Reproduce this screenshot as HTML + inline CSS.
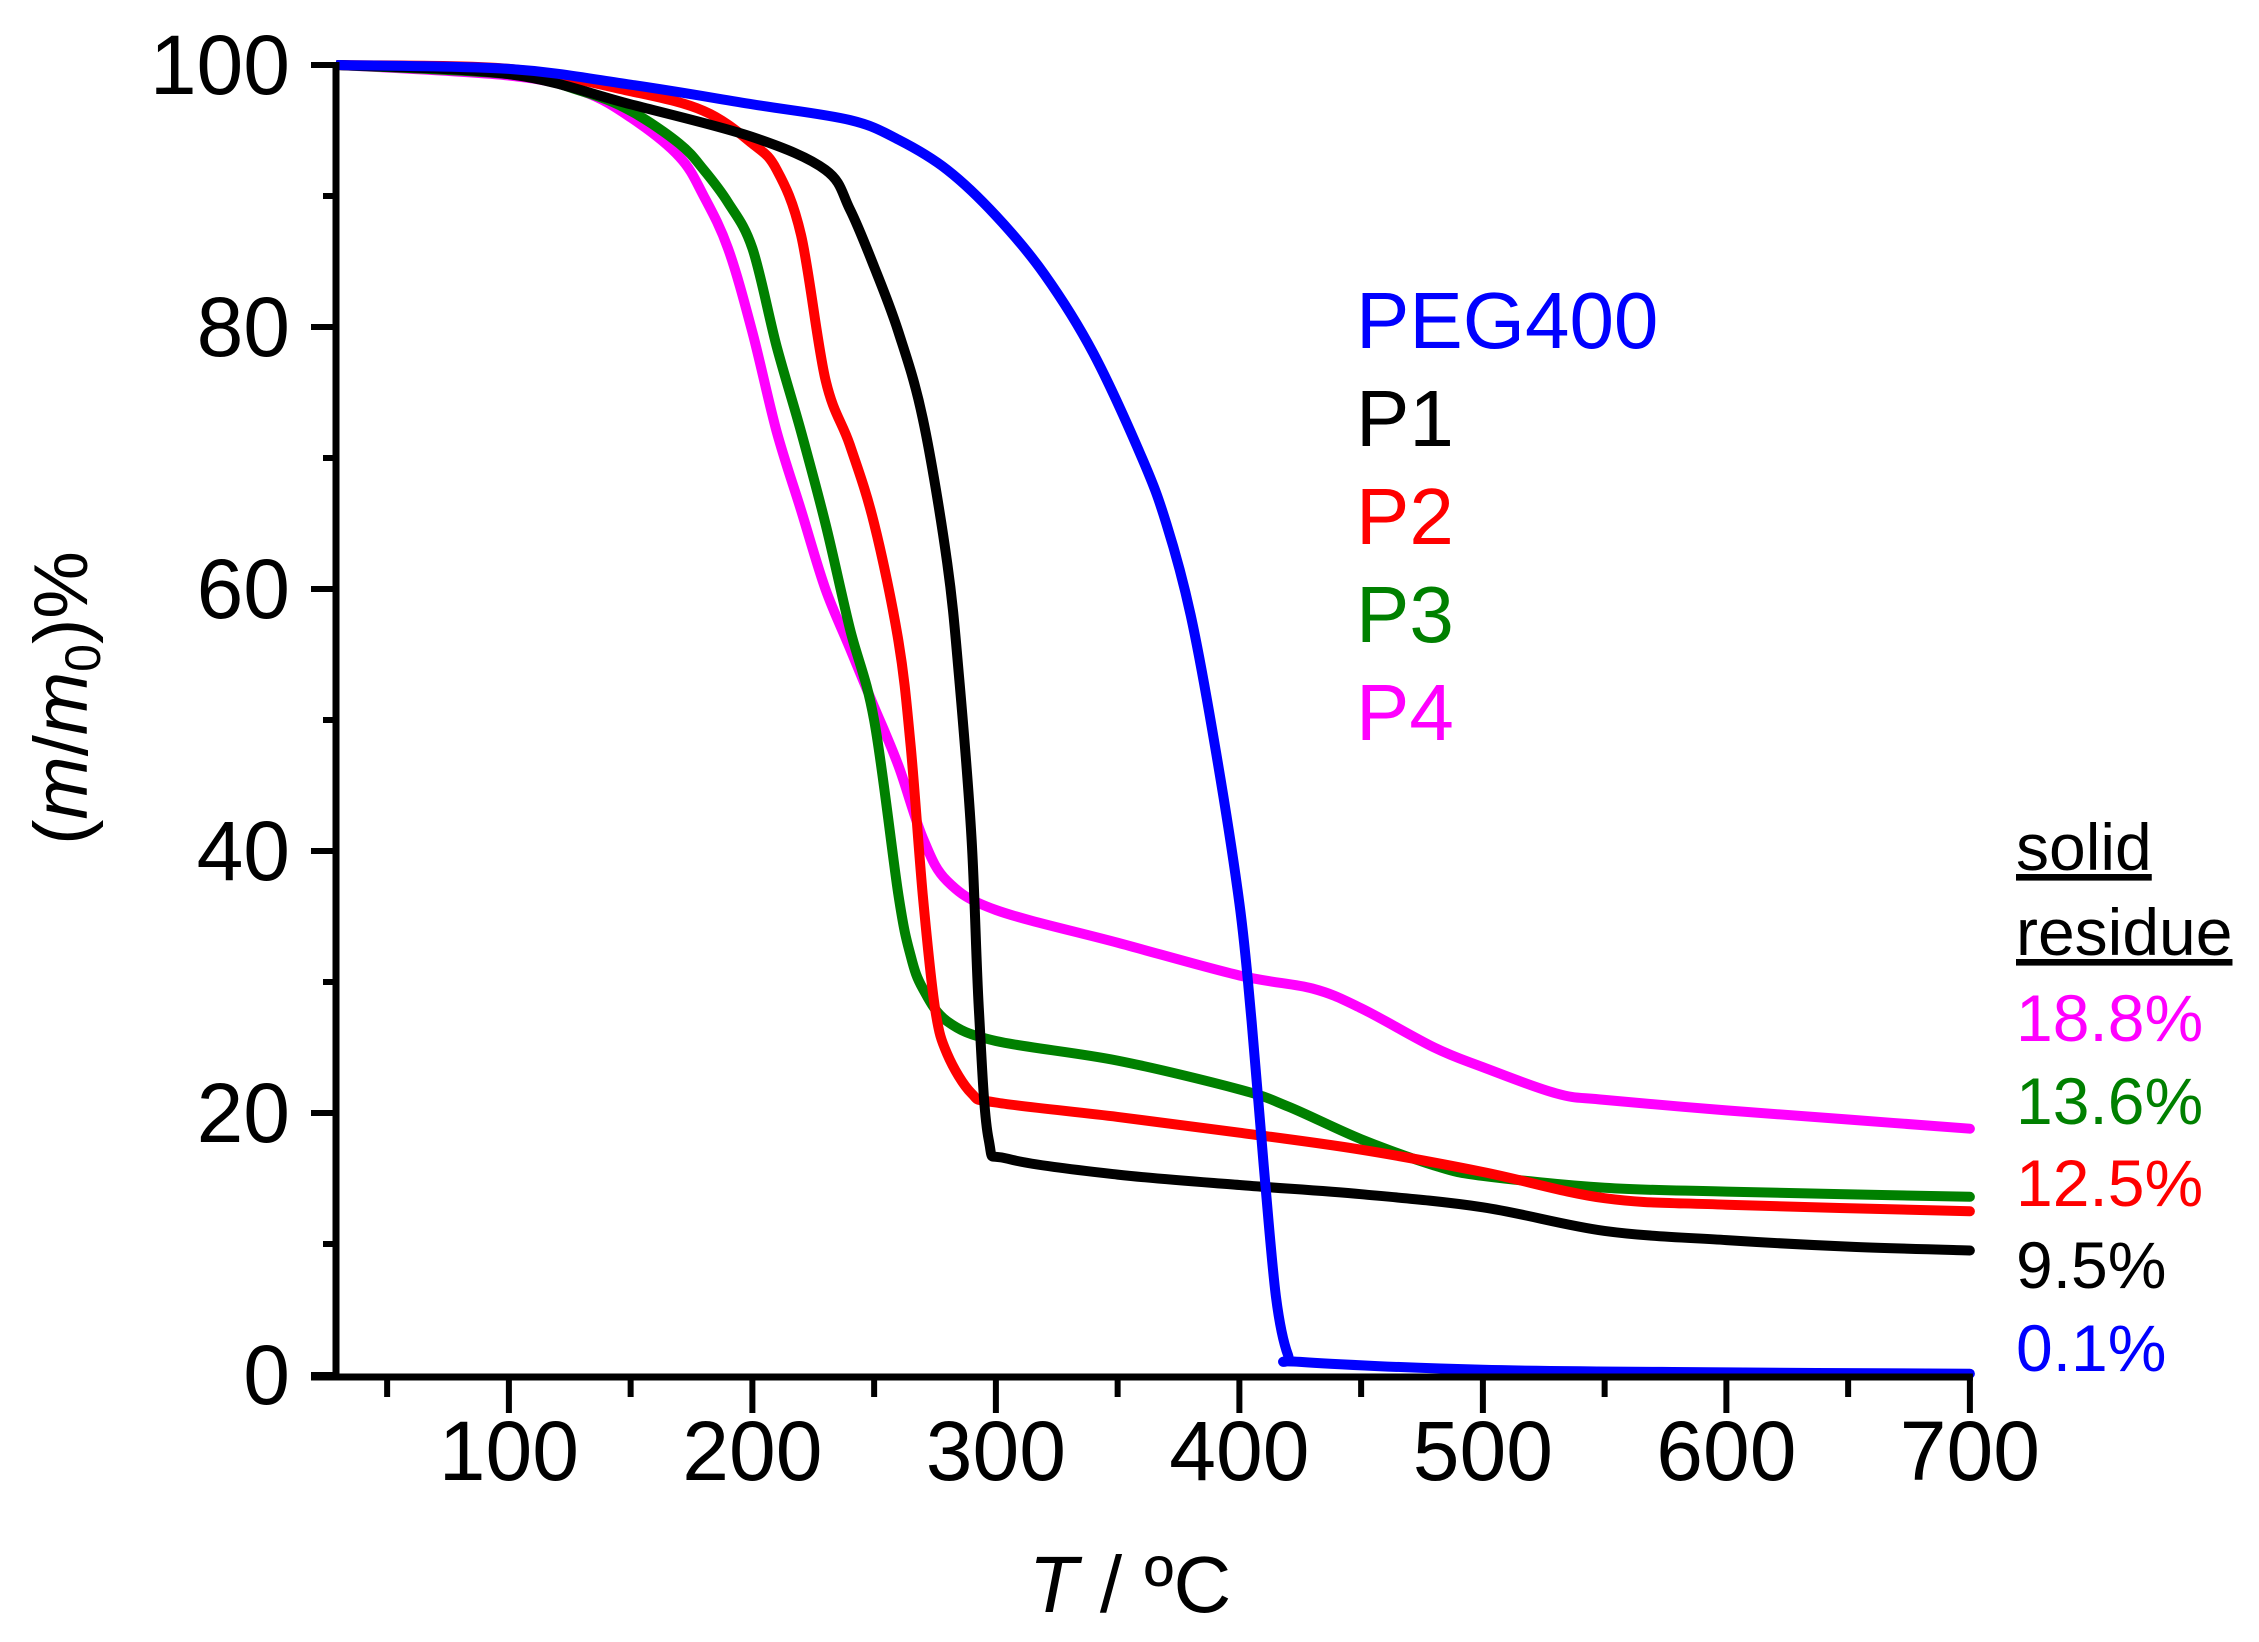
<!DOCTYPE html>
<html><head><meta charset="utf-8">
<style>
html,body{margin:0;padding:0;background:#fff;}
svg{display:block;font-family:"Liberation Sans",sans-serif;}
</style></head>
<body>
<svg id="chart" width="2259" height="1642" viewBox="0 0 2259 1642" xmlns="http://www.w3.org/2000/svg">
<defs><clipPath id="plotclip"><rect x="336" y="40" width="1646" height="1340"/></clipPath></defs>
<g id="series" clip-path="url(#plotclip)"></g>
<g id="axes"></g>
<text transform="translate(87,698) rotate(-90)" text-anchor="middle" font-size="76">(<tspan font-style="italic">m</tspan>/<tspan font-style="italic">m</tspan><tspan font-size="50" dy="13">0</tspan><tspan dy="-13">)%</tspan></text>
<text x="1130" y="1612" text-anchor="middle" font-size="80"><tspan font-style="italic">T</tspan> / ºC</text>
<g font-size="80">
<text x="1356" y="348" fill="#0000ff">PEG400</text>
<text x="1356" y="446" fill="#000">P1</text>
<text x="1356" y="544" fill="#ff0000">P2</text>
<text x="1356" y="642" fill="#008000">P3</text>
<text x="1356" y="740" fill="#ff00ff">P4</text>
</g>
<g font-size="66">
<text x="2016" y="870" text-decoration="underline">solid </text>
<text x="2016" y="955" text-decoration="underline">residue</text>
<text x="2016" y="1041" fill="#ff00ff">18.8%</text>
<text x="2016" y="1124" fill="#008000">13.6%</text>
<text x="2016" y="1206" fill="#ff0000">12.5%</text>
<text x="2016" y="1288" fill="#000">9.5%</text>
<text x="2016" y="1371" fill="#0000ff">0.1%</text>
</g>
</svg>
<script>
const xTicks=[100,200,300,400,500,600,700];
const yTicks=[0,20,40,60,80,100];
const p4T=[30,100,130,150,170,180,190,200,210,220,230,240,250,260,270,280,300,350,400,430,450,480,500,530,550,600,650,700];
const p4M=[100,99.2,98,96,93,90,86,79.6,72,66,60,55.5,51,46.5,41,37.7,35.5,33,30.5,29.5,28,25,23.5,21.5,21,20.2,19.5,18.8];
const p3T=[30,100,130,150,170,180,190,200,210,220,230,240,250,260,265,270,280,300,350,400,420,450,480,500,550,600,700];
const p3M=[100,99.3,98,96.5,94,92,89.5,86,78.5,72,65,57,50,36.6,32,29.5,27,25.5,24,21.8,20.5,18,16,15.2,14.3,14,13.6];
const p2T=[30,100,150,180,200,210,220,230,240,250,260,265,270,275,280,290,300,350,400,450,500,550,600,700];
const p2M=[100,99.7,98,96.5,94,92,87,76,71,65,56,48,36.6,28,24.5,21.5,20.8,19.7,18.5,17.2,15.5,13.5,13,12.5];
const p1T=[30,100,150,200,230,240,250,260,270,280,285,290,293,297,305,350,400,450,500,550,600,650,700];
const p1M=[100,99.3,97,94.5,92,89,84.6,79.6,73,62,53,41,28,18,16.5,15.3,14.5,13.8,12.8,11,10.3,9.8,9.5];
const pegT=[30,100,150,200,240,260,280,300,320,340,360,370,380,390,400,405,410,415,420,425,500,600,700];
const pegM=[100,99.7,98.5,97,95.8,94.3,92,88.5,84,78,70,65,58,48,36,27,16,6,1.5,1,0.4,0.2,0.1];

const X0=336,XMIN=29,XPX=2.435;
const Y0=1375,YPX=13.1;
function xs(v){return X0+(v-XMIN)*XPX;}
function ys(v){return Y0-v*YPX;}
const NS="http://www.w3.org/2000/svg";
const series=document.getElementById('series');
const axes=document.getElementById('axes');
function mk(tag,attrs,parent){const e=document.createElementNS(NS,tag);for(const k in attrs)e.setAttribute(k,attrs[k]);parent.appendChild(e);return e;}
function drawLine(T,M,color,name){
  let d='';
  for(let i=0;i<T.length;i++){
    if(i===0){d+='M'+xs(T[i]).toFixed(1)+','+ys(M[i]).toFixed(1);continue;}
    const p0=[xs(T[Math.max(i-2,0)]),ys(M[Math.max(i-2,0)])];
    const p1=[xs(T[i-1]),ys(M[i-1])];
    const p2=[xs(T[i]),ys(M[i])];
    const p3=[xs(T[Math.min(i+1,T.length-1)]),ys(M[Math.min(i+1,T.length-1)])];
    const c1=[p1[0]+(p2[0]-p0[0])/6,p1[1]+(p2[1]-p0[1])/6];
    const c2=[p2[0]-(p3[0]-p1[0])/6,p2[1]-(p3[1]-p1[1])/6];
    d+=' C'+c1[0].toFixed(1)+','+c1[1].toFixed(1)+' '+c2[0].toFixed(1)+','+c2[1].toFixed(1)+' '+p2[0].toFixed(1)+','+p2[1].toFixed(1);
  }
  const p=mk('path',{d:d,fill:'none',stroke:color,'stroke-width':10,'stroke-linejoin':'round','stroke-linecap':'round'},series);
  
  
}
drawLine(p4T,p4M,'#ff00ff','line-p4');
drawLine(p3T,p3M,'#008000','line-p3');
drawLine(p2T,p2M,'#ff0000','line-p2');
drawLine(p1T,p1M,'#000000','line-p1');
drawLine(pegT,pegM,'#0000ff','line-peg400');

const ax=mk('line',{x1:X0,y1:Y0+3,x2:X0,y2:ys(100)-3,stroke:'#000','stroke-width':7},axes);


const bx=mk('line',{x1:X0-25,y1:Y0+2,x2:xs(700)+3,y2:Y0+2,stroke:'#000','stroke-width':7},axes);


for(let v=0;v<=100;v+=10){
  const major=v%20===0;
  const t=mk('line',{x1:X0-(major?25:13),y1:ys(v),x2:X0,y2:ys(v),stroke:'#000','stroke-width':6},axes);
  
  
}
yTicks.forEach(v=>{
  const t=mk('text',{x:290,y:ys(v)+29,'text-anchor':'end','font-size':84},axes);
  t.textContent=v;
  
  
});
for(let v=50;v<=700;v+=50){
  const major=v%100===0;
  const t=mk('line',{x1:xs(v),y1:Y0,x2:xs(v),y2:Y0+(major?38:22),stroke:'#000','stroke-width':6},axes);
  
  
}
xTicks.forEach(v=>{
  const t=mk('text',{x:xs(v),y:1480,'text-anchor':'middle','font-size':84},axes);
  t.textContent=v;
  
  
});
</script>
</body></html>
